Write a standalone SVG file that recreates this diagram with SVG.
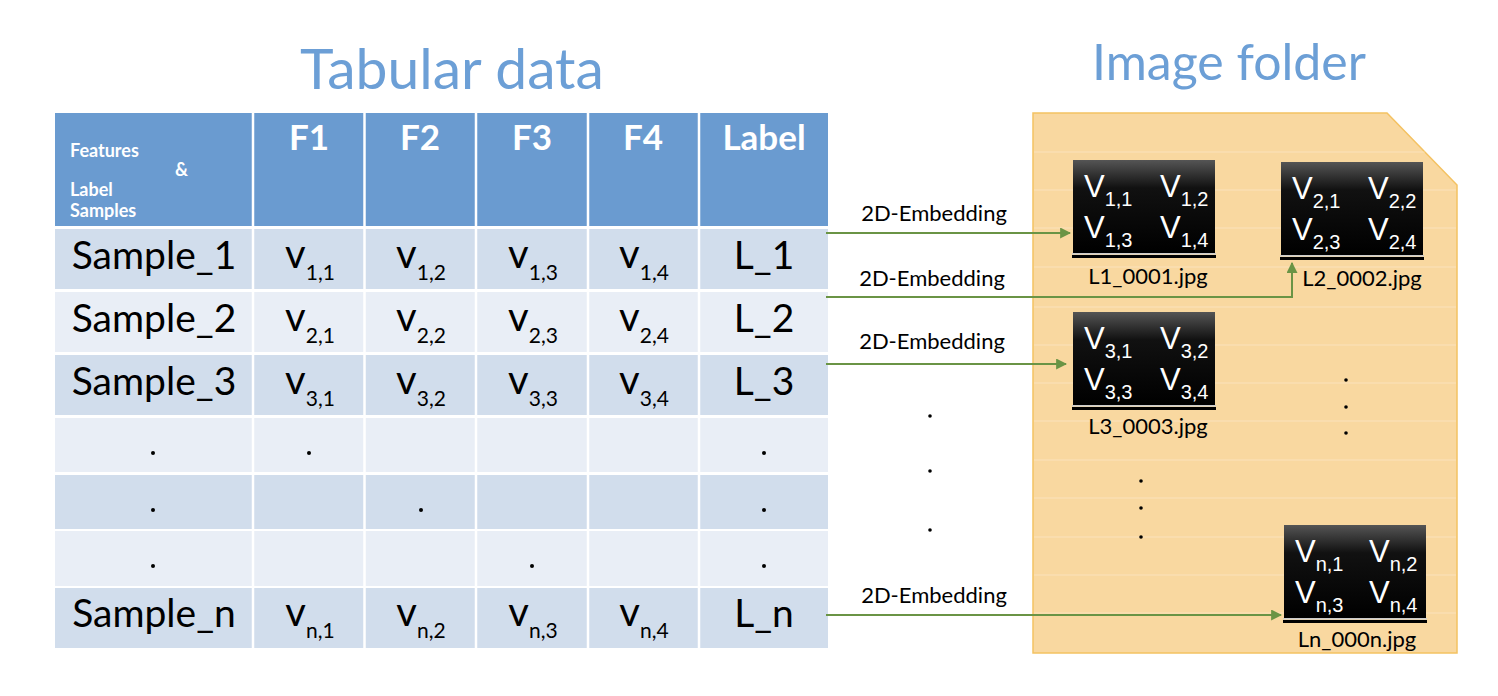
<svg xmlns="http://www.w3.org/2000/svg" width="1498" height="696" viewBox="0 0 1498 696">
<defs>
<linearGradient id="tileg" x1="0" y1="0" x2="0" y2="1">
<stop offset="0" stop-color="#555"/>
<stop offset="0.3" stop-color="#111"/>
<stop offset="1" stop-color="#000"/>
</linearGradient>
<marker id="ah" viewBox="0 0 10 10" refX="9" refY="5" markerWidth="5.5" markerHeight="5.5" orient="auto" markerUnits="strokeWidth">
<path d="M0,0 L10,5 L0,10 z" fill="#6A9445"/>
</marker>
<style>
.t{font-family:Lato,"Liberation Sans",sans-serif;}
.title{font-family:Lato,"Liberation Sans",sans-serif;fill:#6C9FD6;text-anchor:middle;}
.hd{font-family:Lato,"Liberation Sans",sans-serif;fill:#fff;font-weight:bold;font-size:35px;text-anchor:middle;}
.hs{font-family:Lato,"Liberation Sans",sans-serif;fill:#fff;font-weight:bold;font-size:18px;}
.cell{font-family:Lato,"Liberation Sans",sans-serif;fill:#000;font-size:39px;text-anchor:middle;}
.val{font-family:Lato,"Liberation Sans",sans-serif;fill:#000;font-size:40px;text-anchor:middle;}
.sub{font-size:21px;}
.dark{fill:#D1DDEC;}
.light{fill:#E9EEF6;}
.head{fill:#6A9BD0;}
.sep{stroke:#fff;stroke-width:2.5;}
.tile{fill:url(#tileg);}
.tv{font-family:"Liberation Sans",Arial,sans-serif;fill:#fff;font-size:31px;}
.ts{font-size:20px;}
.cap{font-family:Lato,"Liberation Sans",sans-serif;fill:#000;font-size:22px;text-anchor:middle;}
.emb{font-family:Lato,"Liberation Sans",sans-serif;fill:#000;font-size:22px;text-anchor:middle;}
.conn{stroke:#6A9445;stroke-width:2;fill:none;marker-end:url(#ah);}
.dot{fill:#000;}
.fl{stroke:#fff;stroke-opacity:0.3;stroke-width:1;}
</style>
</defs>
<rect width="1498" height="696" fill="#fff"/>

<text class="title" x="452" y="89" font-size="57">Tabular data</text>
<text class="title" x="1229" y="80" font-size="50">Image folder</text>

<g id="table">
<rect class="head" x="55" y="113" width="773" height="113"/>
<rect class="dark" x="55" y="229" width="773" height="60"/>
<rect class="light" x="55" y="292" width="773" height="60"/>
<rect class="dark" x="55" y="355" width="773" height="60"/>
<rect class="light" x="55" y="418" width="773" height="54"/>
<rect class="dark" x="55" y="475" width="773" height="54"/>
<rect class="light" x="55" y="531" width="773" height="55"/>
<rect class="dark" x="55" y="588" width="773" height="60"/>
<g>
<line class="sep" x1="253" y1="113" x2="253" y2="648"/>
<line class="sep" x1="364.5" y1="113" x2="364.5" y2="648"/>
<line class="sep" x1="476" y1="113" x2="476" y2="648"/>
<line class="sep" x1="588" y1="113" x2="588" y2="648"/>
<line class="sep" x1="699" y1="113" x2="699" y2="648"/>
</g>
<text class="hs" x="70" y="157">Features</text>
<text class="hs" x="175" y="176">&amp;</text>
<text class="hs" x="70" y="196">Label</text>
<text class="hs" x="70" y="217">Samples</text>
<text class="hd" x="309" y="150">F1</text>
<text class="hd" x="420" y="150">F2</text>
<text class="hd" x="532" y="150">F3</text>
<text class="hd" x="643" y="150">F4</text>
<text class="hd" x="764" y="150" font-size="38">Label</text>

<text class="cell" x="154" y="269">Sample_1</text>
<text class="val" x="310" y="268">v<tspan class="sub" dy="12">1,1</tspan></text>
<text class="val" x="421" y="268">v<tspan class="sub" dy="12">1,2</tspan></text>
<text class="val" x="533" y="268">v<tspan class="sub" dy="12">1,3</tspan></text>
<text class="val" x="644" y="268">v<tspan class="sub" dy="12">1,4</tspan></text>
<text class="cell" x="764" y="269">L_1</text>

<text class="cell" x="154" y="332">Sample_2</text>
<text class="val" x="310" y="331">v<tspan class="sub" dy="12">2,1</tspan></text>
<text class="val" x="421" y="331">v<tspan class="sub" dy="12">2,2</tspan></text>
<text class="val" x="533" y="331">v<tspan class="sub" dy="12">2,3</tspan></text>
<text class="val" x="644" y="331">v<tspan class="sub" dy="12">2,4</tspan></text>
<text class="cell" x="764" y="332">L_2</text>

<text class="cell" x="154" y="395">Sample_3</text>
<text class="val" x="310" y="394">v<tspan class="sub" dy="12">3,1</tspan></text>
<text class="val" x="421" y="394">v<tspan class="sub" dy="12">3,2</tspan></text>
<text class="val" x="533" y="394">v<tspan class="sub" dy="12">3,3</tspan></text>
<text class="val" x="644" y="394">v<tspan class="sub" dy="12">3,4</tspan></text>
<text class="cell" x="764" y="395">L_3</text>

<circle class="dot" cx="153" cy="453" r="2"/>
<circle class="dot" cx="309" cy="453" r="2"/>
<circle class="dot" cx="764" cy="453" r="2"/>
<circle class="dot" cx="153" cy="510" r="2"/>
<circle class="dot" cx="421" cy="510" r="2"/>
<circle class="dot" cx="764" cy="510" r="2"/>
<circle class="dot" cx="153" cy="566" r="2"/>
<circle class="dot" cx="532" cy="566" r="2"/>
<circle class="dot" cx="764" cy="566" r="2"/>

<text class="cell" x="154" y="627">Sample_n</text>
<text class="val" x="310" y="626">v<tspan class="sub" dy="12">n,1</tspan></text>
<text class="val" x="421" y="626">v<tspan class="sub" dy="12">n,2</tspan></text>
<text class="val" x="533" y="626">v<tspan class="sub" dy="12">n,3</tspan></text>
<text class="val" x="644" y="626">v<tspan class="sub" dy="12">n,4</tspan></text>
<text class="cell" x="764" y="627">L_n</text>
</g>

<g id="folder">
<polygon points="1033,113 1387,113 1457,185 1457,653 1033,653" fill="#F9D8A0" stroke="#F4C262" stroke-width="1.5"/>
<g>
<line class="fl" x1="1034" y1="152" x2="1425" y2="152"/>
<line class="fl" x1="1034" y1="190" x2="1456" y2="190"/>
<line class="fl" x1="1034" y1="228" x2="1456" y2="228"/>
<line class="fl" x1="1034" y1="267" x2="1456" y2="267"/>
<line class="fl" x1="1034" y1="307" x2="1456" y2="307"/>
<line class="fl" x1="1034" y1="345" x2="1456" y2="345"/>
<line class="fl" x1="1034" y1="383" x2="1456" y2="383"/>
<line class="fl" x1="1034" y1="421" x2="1456" y2="421"/>
<line class="fl" x1="1034" y1="460" x2="1456" y2="460"/>
<line class="fl" x1="1034" y1="498" x2="1456" y2="498"/>
<line class="fl" x1="1034" y1="537" x2="1456" y2="537"/>
<line class="fl" x1="1034" y1="575" x2="1456" y2="575"/>
<line class="fl" x1="1034" y1="613" x2="1456" y2="613"/>
</g>
<circle class="dot" cx="1141" cy="481" r="1.8"/>
<circle class="dot" cx="1141" cy="508" r="1.8"/>
<circle class="dot" cx="1141" cy="537" r="1.8"/>
<circle class="dot" cx="1346" cy="380" r="1.8"/>
<circle class="dot" cx="1346" cy="407" r="1.8"/>
<circle class="dot" cx="1346" cy="433" r="1.8"/>
</g>

<g id="img1">
<rect class="tile" x="1073" y="160" width="142" height="93"/>
<rect x="1072" y="253" width="144" height="1.5" fill="#ccc"/>
<rect x="1072" y="255" width="144" height="3" fill="#000"/>
<text class="tv" x="1084" y="197">V<tspan class="ts" dy="9">1,1</tspan></text>
<text class="tv" x="1160" y="197">V<tspan class="ts" dy="9">1,2</tspan></text>
<text class="tv" x="1084" y="238">V<tspan class="ts" dy="9">1,3</tspan></text>
<text class="tv" x="1160" y="238">V<tspan class="ts" dy="9">1,4</tspan></text>
<text class="cap" x="1148" y="284">L1_0001.jpg</text>
</g>

<g id="img2">
<rect class="tile" x="1281" y="162" width="142" height="93"/>
<rect x="1280" y="255" width="144" height="1.5" fill="#ccc"/>
<rect x="1280" y="257" width="144" height="3" fill="#000"/>
<text class="tv" x="1292" y="199">V<tspan class="ts" dy="9">2,1</tspan></text>
<text class="tv" x="1368" y="199">V<tspan class="ts" dy="9">2,2</tspan></text>
<text class="tv" x="1292" y="240">V<tspan class="ts" dy="9">2,3</tspan></text>
<text class="tv" x="1368" y="240">V<tspan class="ts" dy="9">2,4</tspan></text>
<text class="cap" x="1362" y="286">L2_0002.jpg</text>
</g>

<g id="img3">
<rect class="tile" x="1073" y="312" width="142" height="93"/>
<rect x="1072" y="405" width="144" height="1.5" fill="#ccc"/>
<rect x="1072" y="407" width="144" height="3" fill="#000"/>
<text class="tv" x="1084" y="349">V<tspan class="ts" dy="9">3,1</tspan></text>
<text class="tv" x="1160" y="349">V<tspan class="ts" dy="9">3,2</tspan></text>
<text class="tv" x="1084" y="390">V<tspan class="ts" dy="9">3,3</tspan></text>
<text class="tv" x="1160" y="390">V<tspan class="ts" dy="9">3,4</tspan></text>
<text class="cap" x="1148" y="434">L3_0003.jpg</text>
</g>

<g id="imgn">
<rect class="tile" x="1284" y="525" width="142" height="93"/>
<rect x="1283" y="618" width="144" height="1.5" fill="#ccc"/>
<rect x="1283" y="620" width="144" height="3" fill="#000"/>
<text class="tv" x="1295" y="562">V<tspan class="ts" dy="9">n,1</tspan></text>
<text class="tv" x="1369" y="562">V<tspan class="ts" dy="9">n,2</tspan></text>
<text class="tv" x="1295" y="603">V<tspan class="ts" dy="9">n,3</tspan></text>
<text class="tv" x="1369" y="603">V<tspan class="ts" dy="9">n,4</tspan></text>
<text class="cap" x="1357" y="647">Ln_000n.jpg</text>
</g>

<g id="connectors">
<path class="conn" d="M826,233 L1070,233"/>
<path class="conn" d="M826,297 L1292,297 L1292,263"/>
<path class="conn" d="M826,364 L1066,364"/>
<path class="conn" d="M826,615 L1281,615"/>
<text class="emb" x="934" y="221">2D-Embedding</text>
<text class="emb" x="932" y="286">2D-Embedding</text>
<text class="emb" x="932" y="349">2D-Embedding</text>
<text class="emb" x="934" y="603">2D-Embedding</text>
<circle class="dot" cx="930" cy="416" r="1.8"/>
<circle class="dot" cx="930" cy="471" r="1.8"/>
<circle class="dot" cx="930" cy="530" r="1.8"/>
</g>
</svg>
